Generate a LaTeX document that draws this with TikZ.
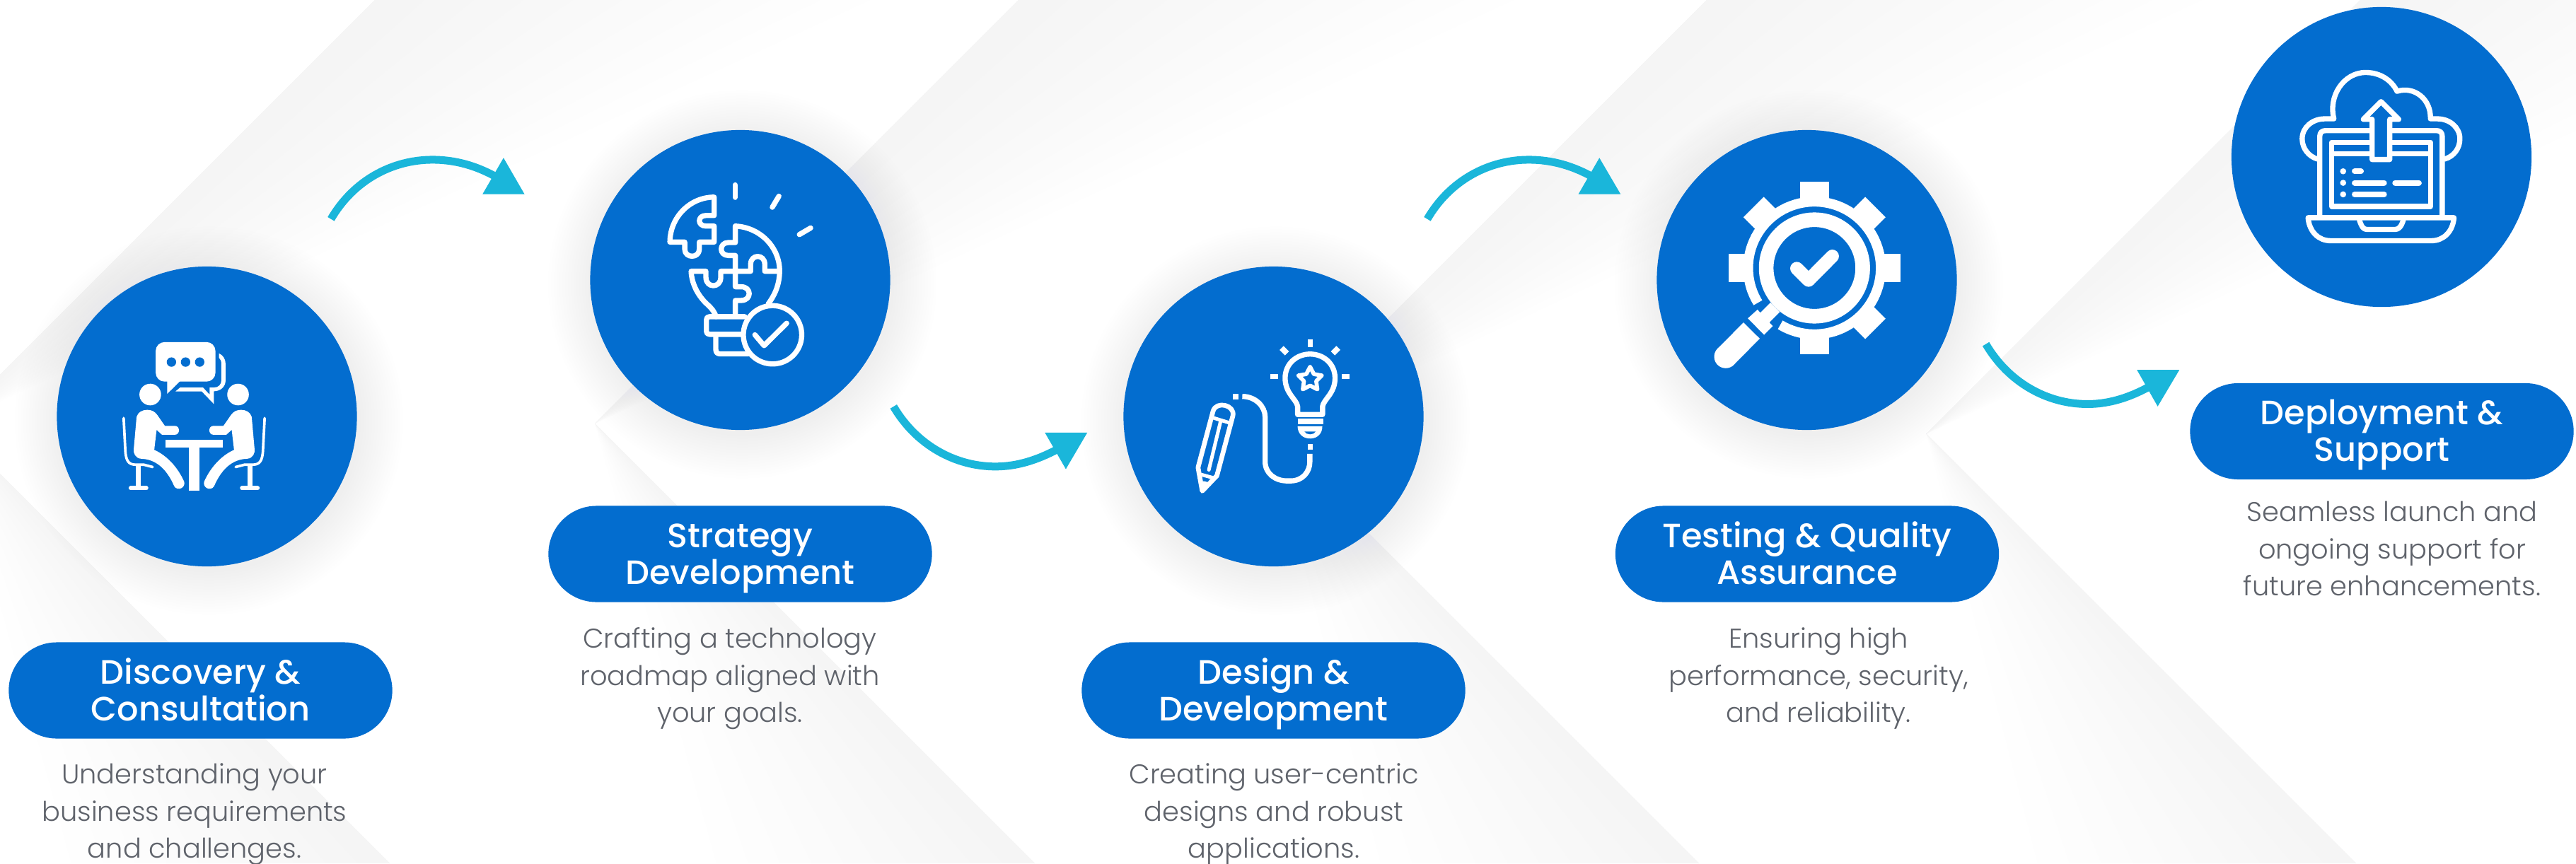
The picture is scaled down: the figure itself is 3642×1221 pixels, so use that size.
\documentclass[tikz,border=0pt]{standalone}
\usepackage{fontspec}
\usetikzlibrary{shapes.misc}
\newfontfamily\titlefont{Poppins Medium}
\newfontfamily\bodyfont{Poppins Light}
\definecolor{mainblue}{HTML}{036DCF}
\definecolor{teal}{HTML}{1AB6DA}
\definecolor{bodygrey}{HTML}{5F636B}
\definecolor{chevc}{HTML}{DEDEF2}
\definecolor{glowc}{HTML}{D8D8EC}
\def\zu{0.00333333cm}
\newcommand\tworows[2]{\raisebox{0pt}[9.5pt][0pt]{#1}\\\raisebox{0pt}[0pt][0pt]{#2}}
\newcommand\threerows[3]{\raisebox{0pt}[0pt][0pt]{#1}\\\raisebox{0pt}[0pt][0pt]{#2}\\\raisebox{0pt}[0pt][0pt]{#3}}
\tikzset{
  zoomat/.style 2 args={shift={(#1,#2)},x=0.00333333cm,y=-0.00333333cm},
  zw/.style={line width=#1*0.09484pt},
  icon/.style={draw=white,line join=round,line cap=round},
  iconbutt/.style={draw=white,line join=round,line cap=butt},
  disc/.style={circle,fill=mainblue,draw=none,minimum size=4.24cm,inner sep=0pt},
  pillbox/.style={rounded rectangle,fill=mainblue,draw=none,minimum width=5.42cm,minimum height=1.36cm,inner sep=0pt,text=white,align=center,font=\titlefont\fontsize{13.6}{14.8}\selectfont},
  desc/.style={text=bodygrey,align=center,inner sep=0pt,font=\bodyfont\fontsize{10.9}{14.8}\selectfont},
  swoosh/.style={draw=teal,line width=33*0.09484pt,line cap=butt},
  gfill/.style={fill=chevc,fill opacity=0.015,draw=none},
  gglow/.style={fill=glowc,fill opacity=0.025,draw=none},
}
\newcommand\chev[2]{%
  \pgfmathsetmacro\ay{(#1-(#2))/2}%
  \foreach \k in {1,...,10}{%
    \fill[gfill] ({#1-\ay},\ay) -- (#1,0) -- ({#1+\k*70},0) -- cycle;
    \fill[gfill] ({#2+\ay},\ay) -- ({#2+1221},1221) -- ({#2+1221-\k*45},1221) -- cycle;
  }}
\newcommand\glow[2]{%
  \foreach \r in {2.14,2.18,...,2.74}{\fill[gglow] ({#1+3},{#2+6}) circle[radius=\r cm];}}
\newcommand\seated{%
  \fill[white] (400,690) .. controls (405,670) and (425,660) .. (445,660) .. controls (465,660) and (478,668) .. (488,682)
    -- (520,728) -- (562,728) .. controls (586,728) and (586,766) .. (562,766) -- (508,766) -- (485,745) -- (475,830)
    .. controls (530,855) and (575,905) .. (602,965) .. controls (610,990) and (575,1008) .. (560,985)
    .. controls (530,915) and (485,870) .. (420,868) .. controls (395,866) and (385,845) .. (388,825) -- cycle;
  \fill[white] (458,595) circle[radius=46*\zu];
  \draw[icon,zw=11] (345,695) -- (352,830) .. controls (354,875) and (365,893) .. (395,893) -- (430,893) -- (468,903);
  \fill[white] (396,895) rectangle (418,990);
  \draw[icon,zw=18] (375,993) -- (441,993);
}
\begin{document}
\begin{tikzpicture}[x=0.01cm,y=-0.01cm]
\useasboundingbox (0,0) rectangle (3642,1221);
\fill[white] (0,0) rectangle (3642,1221);
\begin{scope}
\clip (0,0) rectangle (3642,1221);
\chev{530}{-670}
\chev{1440}{242}
\chev{2413}{1181}
\chev{3337}{2110}
\end{scope}
\glow{292.5}{589}
\glow{1046.5}{396}
\glow{1800.5}{589}
\glow{2554.5}{396}

% discs
\node[disc] (disc1) at (292.5,589) {};
\node[disc] (disc2) at (1046.5,396) {};
\node[disc] (disc3) at (1800.5,589) {};
\node[disc] (disc4) at (2554.5,396) {};
\node[disc] (disc5) at (3367,222) {};

% pills
\node[pillbox] (pill1) at (283.5,976.5) {\tworows{Discovery \&}{Consultation}};
\node[pillbox] (pill2) at (1046.5,783.5) {\tworows{Strategy}{Development}};
\node[pillbox] (pill3) at (1800.5,976.5) {\tworows{Design \&}{Development}};
\node[pillbox] (pill4) at (2555,783.5) {\tworows{Testing \& Quality}{Assurance}};
\node[pillbox] (pill5) at (3367.5,610) {\tworows{Deployment \&}{Support}};

% descriptions
\node[desc] (desc1) at (275,1161) {\threerows{Understanding your}{business requirements}{and challenges.}};
\node[desc] (desc2) at (1032,969) {\threerows{Crafting a technology}{roadmap aligned with}{your goals.}};
\node[desc] (desc3) at (1801,1161) {\threerows{Creating user-centric}{designs and robust}{applications.}};
\node[desc] (desc4) at (2571,969) {\threerows{Ensuring high}{performance, security,}{and reliability.}};
\node[desc] (desc5) at (3382,790) {\threerows{Seamless launch and}{ongoing support for}{future enhancements.}};

% arrows
\begin{scope}[zoomat={440}{190}]
\coordinate (a1s) at (84,360); \coordinate (a1m) at (515,108); \coordinate (a1e) at (775,175);
\draw[swoosh] (a1s) .. controls (180,195) and (345,108) .. (a1m) .. controls (615,108) and (700,135) .. (a1e);
\fill[teal] (817,100) -- (728,254) -- (906,254) -- cycle;
\end{scope}
\begin{scope}[zoomat={1990}{190}]
\coordinate (a3s) at (84,360); \coordinate (a3m) at (515,108); \coordinate (a3e) at (775,175);
\draw[swoosh] (a3s) .. controls (180,195) and (345,108) .. (a3m) .. controls (615,108) and (700,135) .. (a3e);
\fill[teal] (815,100) -- (726,254) -- (905,254) -- cycle;
\end{scope}
\begin{scope}[zoomat={1240}{550}]
\coordinate (a2s) at (70,75); \coordinate (a2m) at (503,330); \coordinate (a2e) at (760,260);
\draw[swoosh] (a2s) .. controls (167,240) and (333,330) .. (a2m) .. controls (598,330) and (683,300) .. (a2e);
\fill[teal] (713,186) -- (893,186) -- (802,341) -- cycle;
\end{scope}
\begin{scope}[zoomat={2780}{460}]
\coordinate (a4s) at (83,80); \coordinate (a4m) at (515,335); \coordinate (a4e) at (770,265);
\draw[swoosh] (a4s) .. controls (180,245) and (345,335) .. (a4m) .. controls (610,335) and (695,305) .. (a4e);
\fill[teal] (725,190) -- (905,190) -- (813,345) -- cycle;
\end{scope}

% icon 1: two people talking
\begin{scope}[zoomat={60}{360}]
\seated
\begin{scope}[shift={(1289,0)},xscale=-1]
\seated
\end{scope}
\fill[white] (522,786) rectangle (765,819);
\fill[white] (621,819) rectangle (667,1005);
\fill[white,rounded corners=3.6pt] (481,372) rectangle (735,540);
\fill[white] (530,530) -- (530,592) -- (585,538) -- cycle;
\foreach \cx in {548,608,668}{\fill[mainblue] (\cx,457) circle[radius=20*\zu];}
\fill[white] (750,420) .. controls (768,428) and (778,445) .. (778,465) -- (778,535) .. controls (778,562) and (756,581) .. (728,581)
  -- (728,635) -- (677,582) -- (565,582) -- (585,565) -- (682,565) -- (710,595) -- (710,565) -- (730,565)
  .. controls (748,565) and (760,552) .. (760,535) -- (760,465) .. controls (760,453) and (757,445) .. (750,438) -- cycle;
\end{scope}

% icon 2: puzzle bulb
\begin{scope}[zoomat={820}{170},icon,zw=22]
\draw (659,275) -- (659,328);
\draw (845,323) -- (817,370);
\draw (980,458) -- (932,486);
\draw (570,327) -- (570,405) -- (535,405) .. controls (498,405) and (498,450) .. (535,450) -- (570,450) -- (570,518) -- (507,518)
  -- (507,548) .. controls (507,588) and (445,588) .. (445,548) -- (445,518) -- (382,518) .. controls (382,415) and (465,327) .. (570,327) -- cycle;
\draw (660,450) -- (660,520) -- (630,520) .. controls (590,520) and (590,575) .. (630,575) -- (660,575) -- (660,642) -- (725,642) -- (725,612)
  .. controls (725,568) and (785,568) .. (785,612) -- (785,642) -- (845,642);
\draw (660,450) .. controls (765,455) and (848,540) .. (848,640) .. controls (848,695) and (830,740) .. (800,780);
\draw (660,642) -- (660,708) -- (685,708) .. controls (730,708) and (730,766) .. (685,766) -- (660,766) -- (660,830);
\draw (660,642) -- (598,642) -- (598,668) .. controls (598,715) and (535,715) .. (535,668) -- (535,642) -- (472,642)
  .. controls (475,700) and (505,750) .. (540,782) .. controls (560,800) and (572,815) .. (578,835);
\draw (700,835) -- (550,835) .. controls (542,835) and (537,840) .. (537,848) -- (537,897) .. controls (537,905) and (542,910) .. (550,910) -- (688,910);
\draw (577,912) -- (577,975) .. controls (577,988) and (585,993) .. (595,993) -- (715,993);
\draw (818,912) circle[radius=124*\zu];
\draw (743,912) -- (782,958) -- (878,863);
\end{scope}

% icon 3: pencil, cable, bulb
\begin{scope}[zoomat={1570}{360},icon,zw=20]
\draw (372,905) -- (436,665) .. controls (450,620) and (530,640) .. (520,685) -- (452,940) -- (390,1005) -- cycle;
\draw[zw=15] (440,695) -- (505,715);
\draw[zw=15] (468,708) -- (418,915);
\draw[zw=15] (385,935) -- (440,950);
\draw[zw=10] (395,968) -- (412,972) -- (398,985) -- cycle;
\begin{scope}[line cap=butt]
\draw[zw=22] (560,603) .. controls (615,603) and (657,645) .. (657,690) -- (657,880) .. controls (657,930) and (700,962) .. (750,962) -- (765,962) .. controls (815,962) and (847,925) .. (847,880) -- (847,847);
\draw[zw=22] (795,680) -- (795,645) .. controls (790,615) and (742,590) .. (742,525) .. controls (742,465) and (790,423) .. (848,423) .. controls (906,423) and (954,465) .. (954,525) .. controls (954,590) and (906,615) .. (901,645) -- (901,680) -- cycle;
\end{scope}
\fill[white,draw=none] (519,591) rectangle (543,615);
\fill[white,draw=none] (838,804) rectangle (860,828);
\fill[white,draw=none] (795,697) rectangle (903,720);
\fill[white,draw=none] (795,730) -- (900,730) .. controls (900,760) and (880,782) .. (848,782) .. controls (816,782) and (795,760) .. (795,730) -- cycle;
\fill[mainblue,draw=none] (824,752) -- (872,752) .. controls (868,760) and (858,764) .. (848,764) .. controls (838,764) and (828,760) .. (824,752) -- cycle;
\draw[zw=17] (848,477) -- (864,508) -- (898,514) -- (874,538) -- (879,573) -- (848,557) -- (817,573) -- (822,538) -- (798,514) -- (832,508) -- cycle;
\fill[white,draw=none] (838,360) rectangle (860,393);
\fill[white,draw=none] (984,507) rectangle (1016,530);
\fill[white,draw=none] (678,507) rectangle (711,530);
\draw[line cap=butt,zw=24] (727,397) -- (750,420);
\draw[line cap=butt,zw=24] (968,397) -- (945,420);
\end{scope}

% icon 4: gear and magnifier
\begin{scope}[zoomat={2330}{170}]
\foreach \a in {0,45,90,135,180,270,315}{
  \begin{scope}[rotate around={\a:(707,628)}]
  \fill[white] (990,567) rectangle (1073,689);
  \end{scope}}
\draw[draw=white,line cap=butt,zw=42] plot[domain=148.4:481,samples=90] ({707+282*cos(\x)},{628+282*sin(\x)});
\draw[draw=white,zw=62] (707,628) circle[radius=205*\zu];
\fill[white] (520,775) -- (560,815) -- (515,860) -- (475,820) -- cycle;
\fill[white] (424,842) -- (465,805) -- (530,875) -- (493,912) -- cycle;
\draw[draw=white,line cap=butt,zw=97] (440,894) -- (330,1005);
\fill[white] (330,1005) circle[radius=49*\zu];
\draw[icon,zw=56] (632,630) -- (682,680) -- (783,578);
\end{scope}

% icon 5: cloud upload laptop
\begin{scope}[zoomat={3140}{0},icon,zw=22]
\draw (410,676) .. controls (372,665) and (345,630) .. (345,590) .. controls (345,540) and (390,505) .. (440,505) -- (480,505)
  .. controls (455,410) and (520,308) .. (615,308) .. controls (675,308) and (725,340) .. (748,388) .. controls (820,365) and (893,420) .. (890,505)
  -- (920,505) .. controls (970,505) and (1015,540) .. (1015,590) .. controls (1015,630) and (990,665) .. (950,676);
\draw (420,915) -- (420,578) .. controls (420,563) and (430,555) .. (445,555) -- (638,555);
\draw (722,555) -- (915,555) .. controls (930,555) and (940,563) .. (940,578) -- (940,915);
\draw (638,605) -- (470,605) -- (470,877) -- (890,877) -- (890,605) -- (722,605);
\draw (470,653) -- (638,653);
\draw (722,653) -- (890,653);
\draw (642,678) -- (642,507) -- (605,507) -- (680,432) -- (755,507) -- (717,507) -- (717,678) -- cycle;
\foreach \ly in {728,777,826}{\fill[white,draw=none] (519,\ly) circle[radius=13*\zu];}
\draw[zw=24] (568,728) -- (595,728);
\draw[zw=24] (568,777) -- (693,777);
\draw[zw=24] (740,777) -- (841,777);
\draw[zw=24] (568,826) -- (693,826);
\draw (370,925) -- (990,925) .. controls (985,985) and (945,1023) .. (895,1023) -- (465,1023) .. controls (415,1023) and (375,985) .. (370,925) -- cycle;
\draw (588,935) .. controls (598,965) and (605,975) .. (620,975) -- (740,975) .. controls (755,975) and (765,965) .. (775,935);
\end{scope}
\end{tikzpicture}
\end{document}
